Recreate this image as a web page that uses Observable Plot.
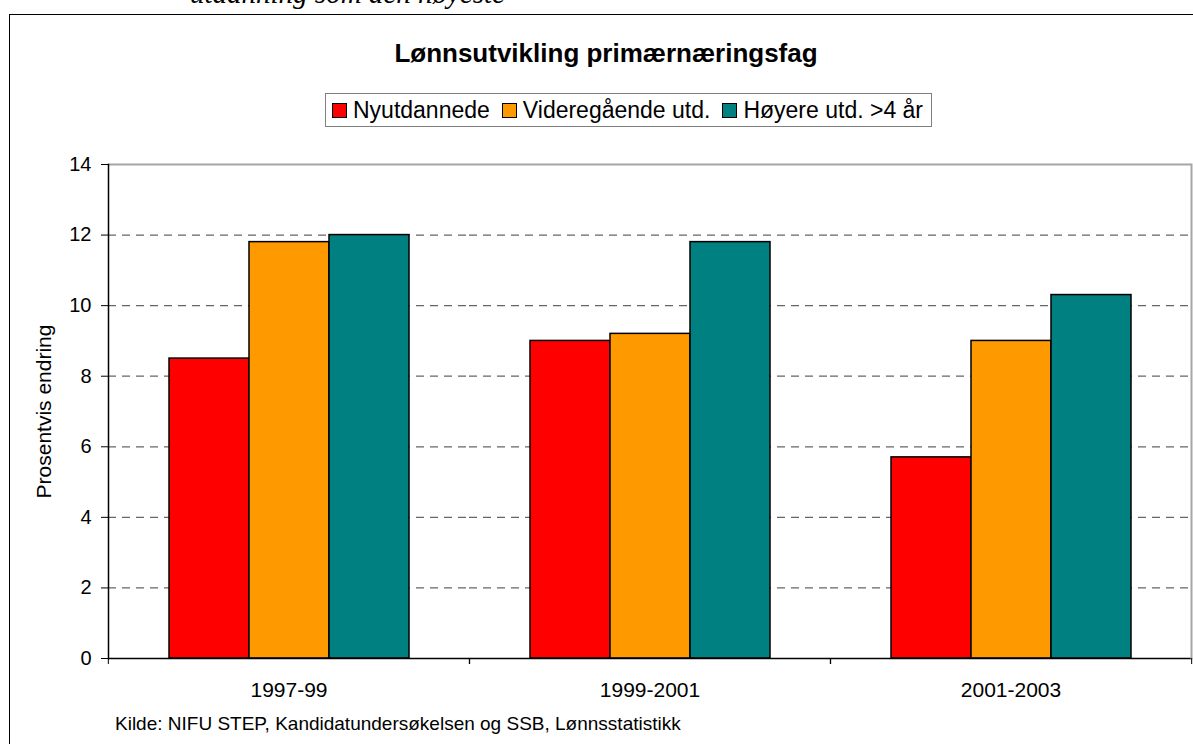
<!DOCTYPE html>
<html>
<head>
<meta charset="utf-8">
<script src="https://cdn.jsdelivr.net/npm/d3@7"></script>
<script src="https://cdn.jsdelivr.net/npm/@observablehq/plot@0.6"></script>
<style>
  html, body { margin: 0; padding: 0; background: #fff; }
  body { position: relative; width: 1193px; height: 744px; overflow: hidden; font-family: "Liberation Sans", Arial, sans-serif; color: #000; }
  #toptext { position: absolute; left: 190px; top: -21px; font: italic 29px/29px "Liberation Serif", "Times New Roman", serif; white-space: nowrap; }
  #box { position: absolute; left: 9px; top: 14px; width: 1400px; height: 900px; border: 1.5px solid #000; }
  #title { position: absolute; left: 0; width: 1212px; top: 40px; text-align: center; font: bold 26px/26px "Liberation Sans", Arial, sans-serif; white-space: nowrap; }
  #legend { position: absolute; left: 325px; top: 93px; height: 34px; box-sizing: border-box; border: 1.5px solid #808080; display: flex; align-items: center; padding: 0 8px 0 6px; font: 23px/23px "Liberation Sans", Arial, sans-serif; white-space: nowrap; background: #fff; }
  .item { display: flex; align-items: center; }
  .item + .item { margin-left: 12px; }
  .sw { width: 15px; height: 15px; box-sizing: border-box; border: 1.5px solid #000; margin-right: 6px; }
  #chart { position: absolute; left: 0; top: 140px; }
  #caption { position: absolute; left: 115px; top: 714px; font: 19px/19px "Liberation Sans", Arial, sans-serif; white-space: nowrap; }
</style>
</head>
<body>
<div id="toptext">utdanning som den høyeste</div>
<div id="box"></div>
<div id="title">Lønnsutvikling primærnæringsfag</div>
<div id="legend"></div>
<div id="chart"></div>
<div id="caption">Kilde: NIFU STEP, Kandidatundersøkelsen og SSB, Lønnsstatistikk</div>
<script>
// ---- data ----
const periods = ["1997-99", "1999-2001", "2001-2003"];
const series = ["Nyutdannede", "Videregående utd.", "Høyere utd. >4 år"];
const nyutdannede = [8.5, 9.0, 5.7];
const videregaende = [11.8, 9.2, 9.0];
const hoyere = [12.0, 11.8, 10.3];
const colors = ["#FF0000", "#FF9900", "#008080"];
const yTicks = [0, 2, 4, 6, 8, 10, 12, 14];
const yLabel = "Prosentvis endring";

const values = [nyutdannede, videregaende, hoyere];
const rows = [];
periods.forEach((p, i) => series.forEach((s, j) => rows.push({period: p, series: s, value: values[j][i]})));

// legend
const legend = document.getElementById("legend");
series.forEach((s, j) => {
  const it = document.createElement("div");
  it.className = "item";
  const sw = document.createElement("div");
  sw.className = "sw";
  sw.style.background = colors[j];
  const tx = document.createElement("span");
  tx.textContent = s;
  it.appendChild(sw); it.appendChild(tx);
  legend.appendChild(it);
});

const W = 1193, ML = 107, MR = 2;
const step = (W - ML - MR) / periods.length;

const chart = Plot.plot({
  width: W,
  height: 564,
  marginTop: 24,
  marginBottom: 46,
  marginLeft: ML,
  marginRight: MR,
  style: {fontFamily: "'Liberation Sans', Arial, sans-serif", fontSize: "20px", background: "transparent", color: "#000", overflow: "visible"},
  fx: {domain: periods, padding: 0, axis: null},
  x: {domain: series, paddingInner: 0, paddingOuter: 0.75, axis: null},
  y: {domain: [0, 14], axis: null},
  color: {domain: series, range: colors},
  marks: [
    Plot.gridY(yTicks.slice(1, -1), {stroke: "#666", strokeOpacity: 1, strokeWidth: 1.3, strokeDasharray: "8,6"}),
    Plot.ruleY([14], {stroke: "#a6a6a6", strokeWidth: 2}),
    Plot.barY(rows, {fx: "period", x: "series", y: "value", fill: "series", stroke: "#000", strokeWidth: 1.5}),
    Plot.ruleY([0], {stroke: "#000", strokeWidth: 1.5}),
    Plot.frame({anchor: "left", facetAnchor: "left", stroke: "#000", strokeWidth: 1.5}),
    Plot.frame({anchor: "right", facetAnchor: "right", stroke: "#a6a6a6", strokeWidth: 2}),
    Plot.axisY(yTicks, {anchor: "left", tickSize: 7, tickPadding: 10, fontSize: 20, label: null, stroke: "#000"}),
    Plot.axisFx({anchor: "bottom", tickSize: 0, tickPadding: 24, fontSize: 21, label: null}),
    Plot.axisFx({anchor: "bottom", tickSize: 6, tickFormat: () => "", dx: step / 2, label: null, stroke: "#000"}),
    Plot.axisFx({anchor: "bottom", tickSize: 6, tickFormat: () => "", dx: -step / 2, label: null, stroke: "#000"}),
    Plot.text([periods[0]], {fx: d => d, frameAnchor: "left", text: () => yLabel, rotate: -90, dx: -64, fontSize: 21, lineAnchor: "middle", textAnchor: "middle"})
  ]
});
document.getElementById("chart").appendChild(chart);
</script>
</body>
</html>
